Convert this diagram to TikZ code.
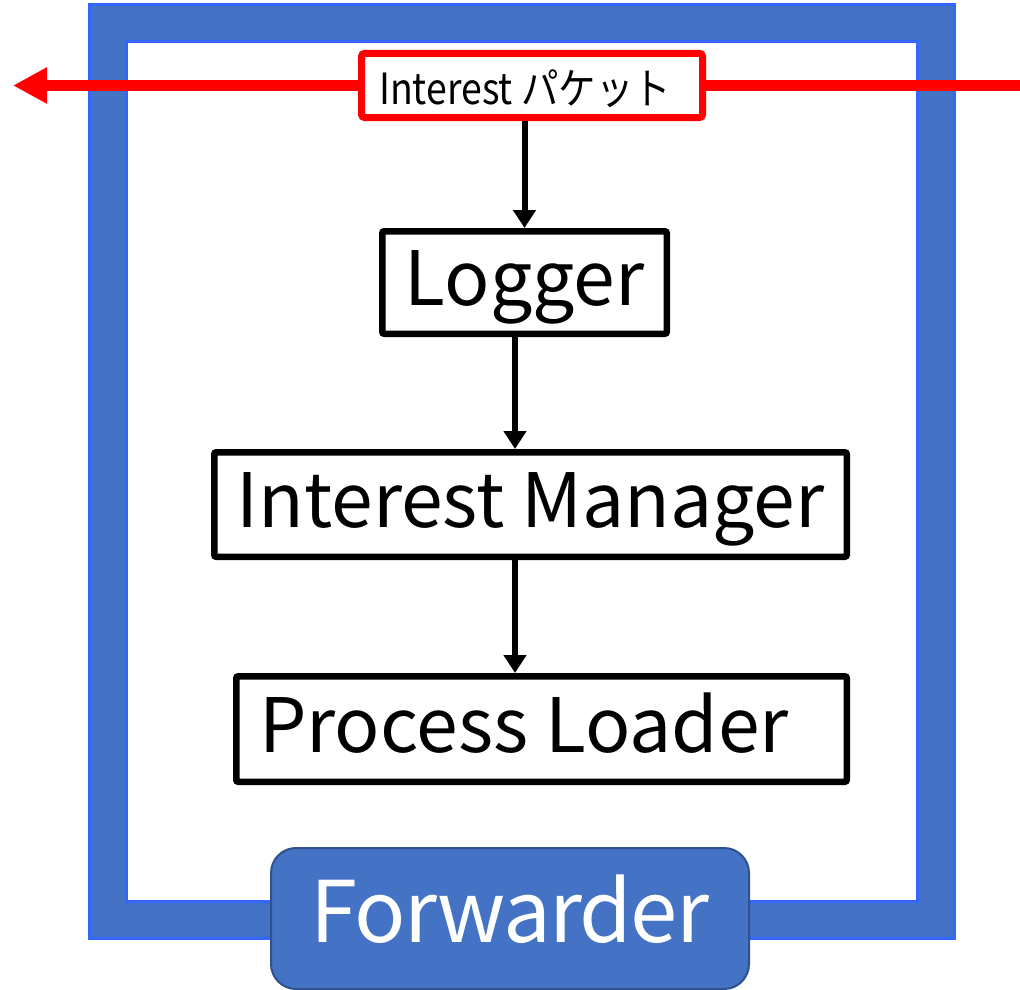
\documentclass[tikz,border=0pt]{standalone}
\usepackage{fontspec}
\setmainfont{Noto Sans CJK JP}
\usetikzlibrary{arrows.meta}
\definecolor{frameblue}{HTML}{4472C4}
\definecolor{edgeblue}{HTML}{3366FF}
\definecolor{fwdedge}{HTML}{2F528F}
\tikzset{
  x=1pt, y=1pt,
  module/.style={draw=black, line width=6.5pt, fill=white, rounded corners=2pt, inner sep=0pt,
    text height=55pt, text depth=0pt, font=\fontsize{75}{85}\selectfont},
  flow/.style={draw=black, line width=6pt, -{Triangle[length=18pt,width=22pt]}},
  packetbox/.style={draw=red, line width=7pt, fill=white, rounded corners=3pt, inner sep=0pt,
    minimum width=341pt, minimum height=64pt, text height=32pt, text depth=0pt,
    font=\fontsize{43}{50}\selectfont},
  redline/.style={draw=red, line width=10pt},
}
\begin{document}
\begin{tikzpicture}
\useasboundingbox (0,0) rectangle (1020,-990);

% forwarder frame
\fill[frameblue, even odd rule] (89,-5) rectangle (954,-938) (126,-42) rectangle (917,-901);
\draw[edgeblue, line width=3pt] (89,-5) rectangle (954,-938);
\draw[edgeblue, line width=3pt] (126,-42) rectangle (917,-901);

% modules
\node[packetbox] (packet) at (532,-85.5)
  {\hspace*{-14pt}\raisebox{-3pt}{\scalebox{0.87}[1]{Interest パケット}}};
\node[module, minimum width=284.5pt, minimum height=102.5pt] (logger) at (524.5,-282.5)
  {\raisebox{5pt}{Logger}};
\node[module, minimum width=632.5pt, minimum height=104.5pt] (im) at (530.5,-504.5)
  {\raisebox{4.5pt}{Interest Manager}};
\node[module, minimum width=610.5pt, minimum height=105.5pt] (pl) at (541.5,-729)
  {\hspace*{-35pt}\raisebox{4pt}{Process Loader}};

% packet path through the forwarder
\coordinate (inport) at (1020,-85.5);
\coordinate (outport) at (13,-85.5);
\draw[redline] (inport) -- (packet.east);
\draw[redline, -{Triangle[length=34pt,width=34pt]}] (packet.west) -- (outport);

% processing order
\draw[flow] (packet.south -| logger) -- (logger.north);
\draw[flow] ([xshift=-9.5pt]logger.south) -- ([xshift=-9.5pt]logger.south |- im.north);
\draw[flow] ([xshift=-15.5pt]im.south) -- ([xshift=-15.5pt]im.south |- pl.north);

% forwarder label
\node[draw=fwdedge, line width=2pt, fill=frameblue, rounded corners=25pt, inner sep=0pt,
  minimum width=478pt, minimum height=141pt, text=white, text height=62pt, text depth=0pt,
  font=\fontsize{85}{95}\selectfont\addfontfeatures{LetterSpace=-2}]
  (fwd) at (510,-918.5) {\raisebox{7.5pt}{Forwarder}};
\end{tikzpicture}
\end{document}
